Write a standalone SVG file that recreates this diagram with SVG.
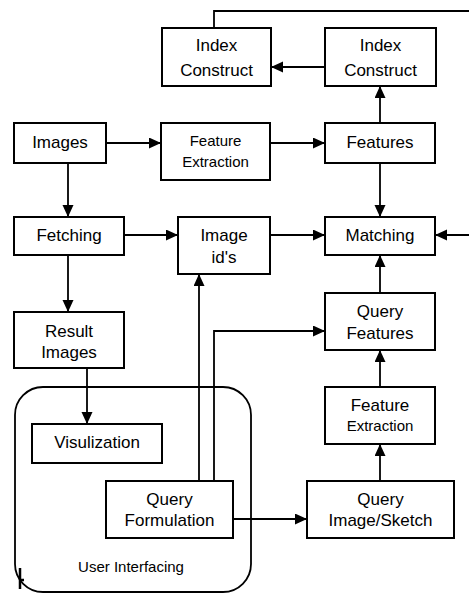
<svg xmlns="http://www.w3.org/2000/svg" width="469" height="593" viewBox="0 0 469 593">
<style>
.box{fill:#fff;stroke:#000;stroke-width:2}
.t{font-family:"Liberation Sans",Arial,sans-serif;font-size:17px;fill:#000;text-anchor:middle}
.s{font-size:15px}
.c{fill:none;stroke:#000;stroke-width:1.8}
</style>
<defs>
<marker id="ah" markerUnits="userSpaceOnUse" markerWidth="13" markerHeight="12" refX="12" refY="5.5" orient="auto">
<path d="M0,0 L12,5.5 L0,11 z" fill="#000"/>
</marker>
</defs>
<rect width="469" height="593" fill="#fff"/>
<g id="user-interfacing">
<rect x="15" y="387" width="236" height="205" rx="28" ry="28" fill="none" stroke="#000" stroke-width="1.8"/>
<text class="t s" x="131" y="572">User Interfacing</text>
<path d="M20,568 V589 M20,580 H24" fill="none" stroke="#000" stroke-width="2.5"/>
</g>
<g id="connectors">
<path class="c" d="M214,28 V11 H469"/>
<path class="c" d="M325,67 H271" marker-end="url(#ah)"/>
<path class="c" d="M380,123 V86" marker-end="url(#ah)"/>
<path class="c" d="M106,143 H161" marker-end="url(#ah)"/>
<path class="c" d="M270,143 H325" marker-end="url(#ah)"/>
<path class="c" d="M68,163 V217" marker-end="url(#ah)"/>
<path class="c" d="M380,163 V217" marker-end="url(#ah)"/>
<path class="c" d="M124,235 H178" marker-end="url(#ah)"/>
<path class="c" d="M270,235 H325" marker-end="url(#ah)"/>
<path class="c" d="M469,235 H435" marker-end="url(#ah)"/>
<path class="c" d="M199,481 V274" marker-end="url(#ah)"/>
<path class="c" d="M214,481 V331 H325" marker-end="url(#ah)"/>
<path class="c" d="M380,293 V255" marker-end="url(#ah)"/>
<path class="c" d="M68,255 V312" marker-end="url(#ah)"/>
<path class="c" d="M380,387 V350" marker-end="url(#ah)"/>
<path class="c" d="M87,368 V424" marker-end="url(#ah)"/>
<path class="c" d="M380,481 V444" marker-end="url(#ah)"/>
<path class="c" d="M233,519 H307" marker-end="url(#ah)"/>
</g>
<g id="index-construct-left">
<rect class="box" x="162" y="28" width="109" height="58"/>
<text class="t" x="216.5" y="51">Index</text>
<text class="t" x="216.5" y="76">Construct</text>
</g>
<g id="index-construct-right">
<rect class="box" x="325" y="28" width="111" height="58"/>
<text class="t" x="380.5" y="51">Index</text>
<text class="t" x="380.5" y="76">Construct</text>
</g>
<g id="images">
<rect class="box" x="14" y="123" width="92" height="40"/>
<text class="t" x="60" y="148">Images</text>
</g>
<g id="feature-extraction-top">
<rect class="box" x="161" y="123" width="109" height="57"/>
<text class="t s" x="215.5" y="146">Feature</text>
<text class="t s" x="215.5" y="167">Extraction</text>
</g>
<g id="features">
<rect class="box" x="325" y="123" width="110" height="40"/>
<text class="t" x="380" y="148">Features</text>
</g>
<g id="fetching">
<rect class="box" x="14" y="217" width="110" height="38"/>
<text class="t" x="69" y="241">Fetching</text>
</g>
<g id="image-ids">
<rect class="box" x="178" y="217" width="92" height="57"/>
<text class="t" x="224" y="241">Image</text>
<text class="t" x="224" y="263">id's</text>
</g>
<g id="matching">
<rect class="box" x="325" y="217" width="110" height="38"/>
<text class="t" x="380" y="241">Matching</text>
</g>
<g id="result-images">
<rect class="box" x="14" y="312" width="110" height="56"/>
<text class="t" x="69" y="337">Result</text>
<text class="t" x="69" y="358">Images</text>
</g>
<g id="query-features">
<rect class="box" x="325" y="293" width="110" height="57"/>
<text class="t" x="380" y="317">Query</text>
<text class="t" x="380" y="339">Features</text>
</g>
<g id="feature-extraction-bottom">
<rect class="box" x="325" y="387" width="110" height="57"/>
<text class="t" x="380" y="411">Feature</text>
<text class="t s" x="380" y="431">Extraction</text>
</g>
<g id="visulization">
<rect class="box" x="32" y="424" width="130" height="39"/>
<text class="t" x="97" y="448">Visulization</text>
</g>
<g id="query-formulation">
<rect class="box" x="106" y="481" width="127" height="57"/>
<text class="t" x="169.5" y="505">Query</text>
<text class="t" x="169.5" y="526">Formulation</text>
</g>
<g id="query-image-sketch">
<rect class="box" x="307" y="481" width="147" height="57"/>
<text class="t" x="380.5" y="505">Query</text>
<text class="t" x="380.5" y="526">Image/Sketch</text>
</g>
</svg>
